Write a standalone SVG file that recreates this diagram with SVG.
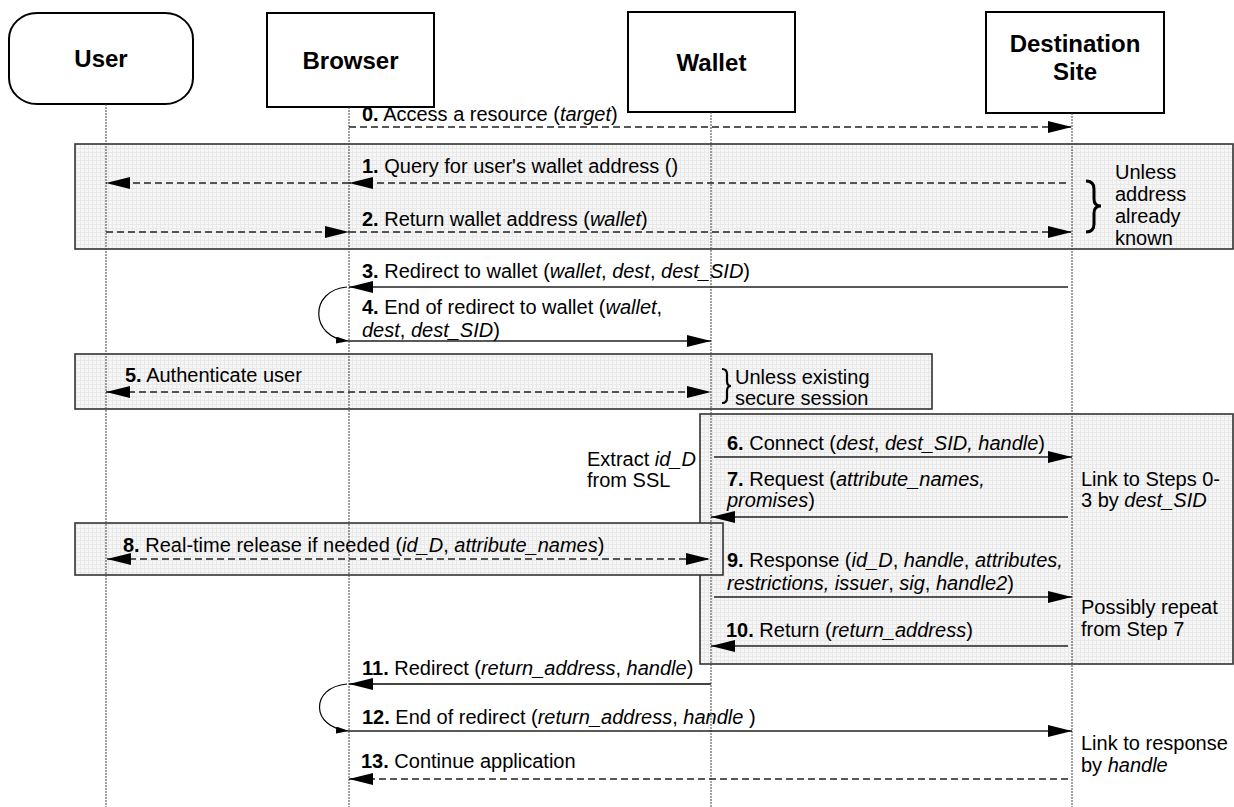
<svg xmlns="http://www.w3.org/2000/svg" width="1234" height="807" viewBox="0 0 1234 807">
<style>
.t{font-family:"Liberation Sans",Arial,sans-serif;font-size:20px;fill:#000}
.h{font-family:"Liberation Sans",Arial,sans-serif;font-size:24px;font-weight:bold;text-anchor:middle;fill:#000}
.b{font-weight:bold}
.i{font-style:italic}
.hbox{fill:#fff;stroke:#000;stroke-width:2}
.shade{fill:url(#grid);stroke:#333;stroke-width:1.6}
.life{stroke:#444;stroke-width:1;stroke-dasharray:2,1;fill:none}
.sol{stroke:#222;stroke-width:1.5;fill:none}
.dash{stroke:#222;stroke-width:1.3;stroke-dasharray:7,4;fill:none}
.cur{stroke:#000;stroke-width:1.2;fill:none}
.brace{stroke:#000;fill:none}
</style>
<defs>
<pattern id="grid" width="4" height="4" patternUnits="userSpaceOnUse">
<rect width="4" height="4" fill="#f6f6f6"/>
<path d="M0 0.5H4M0.5 0V4" stroke="#e9e9e9" stroke-width="1"/>
</pattern>
<marker id="ah" viewBox="0 0 24 12" refX="24" refY="6" markerWidth="24" markerHeight="12" markerUnits="userSpaceOnUse" orient="auto-start-reverse">
<path d="M0,0 L24,6 L0,12 z" fill="#000"/>
</marker>
<marker id="ahs" viewBox="0 0 13 7" refX="13" refY="3.5" markerWidth="13" markerHeight="7" markerUnits="userSpaceOnUse" orient="auto">
<path d="M0,0 L13,3.5 L0,7 z" fill="#000"/>
</marker>
</defs>
<rect width="1234" height="807" fill="#fff"/>

<g id="regions">
<rect id="region-address" class="shade" x="75" y="144" width="1158" height="105"/>
<rect id="region-auth" class="shade" x="75" y="354" width="857" height="55"/>
<rect id="region-exchange" class="shade" x="700" y="414" width="533" height="250"/>
<rect id="region-release" class="shade" x="75" y="523" width="648" height="52"/>
</g>

<g id="user">
<rect class="hbox" x="9" y="13" width="184" height="91" rx="28" ry="26"/>
<text class="h" x="101" y="67">User</text>
<line class="life" x1="106" y1="104" x2="106" y2="807"/>
</g>
<g id="browser">
<rect class="hbox" x="267" y="13" width="167" height="94"/>
<text class="h" x="350.5" y="69">Browser</text>
<line class="life" x1="349" y1="107" x2="349" y2="807"/>
</g>
<g id="wallet">
<rect class="hbox" x="628" y="12" width="167" height="100"/>
<text class="h" x="711.5" y="71">Wallet</text>
<line class="life" x1="711" y1="112" x2="711" y2="807"/>
</g>
<g id="destination">
<rect class="hbox" x="986" y="12" width="178" height="101"/>
<text class="h" x="1075" y="52">Destination</text>
<text class="h" x="1075" y="80">Site</text>
<line class="life" x1="1072" y1="113" x2="1072" y2="807"/>
</g>

<g id="connectors">
<line class="dash" x1="349" y1="127" x2="1072" y2="127" marker-end="url(#ah)"/>
<line class="dash" x1="1066" y1="183" x2="349" y2="183" marker-end="url(#ah)"/>
<line class="dash" x1="349" y1="183" x2="106" y2="183" marker-end="url(#ah)"/>
<line class="dash" x1="106" y1="232" x2="349" y2="232" marker-end="url(#ah)"/>
<line class="dash" x1="349" y1="232" x2="1072" y2="232" marker-end="url(#ah)"/>
<line class="sol" x1="1068" y1="287" x2="349" y2="287" marker-end="url(#ah)"/>
<path class="cur" d="M347,287 C309,290 309,338 349,341" marker-end="url(#ahs)"/>
<line class="sol" x1="349" y1="341" x2="711" y2="341" marker-end="url(#ah)"/>
<line class="dash" x1="106" y1="392" x2="711" y2="392" marker-start="url(#ah)" marker-end="url(#ah)"/>
<line class="sol" x1="714" y1="457" x2="1072" y2="457" marker-end="url(#ah)"/>
<line class="sol" x1="1068" y1="517" x2="711" y2="517" marker-end="url(#ah)"/>
<line class="dash" x1="107" y1="559" x2="710" y2="559" marker-start="url(#ah)" marker-end="url(#ah)"/>
<line class="sol" x1="714" y1="597" x2="1072" y2="597" marker-end="url(#ah)"/>
<line class="sol" x1="1068" y1="646" x2="711" y2="646" marker-end="url(#ah)"/>
<line class="sol" x1="711" y1="684" x2="349" y2="684" marker-end="url(#ah)" style="stroke:#444;stroke-width:2"/>
<path class="cur" d="M347,684 C310,687 310,728 349,731" marker-end="url(#ahs)"/>
<line class="sol" x1="349" y1="731" x2="1072" y2="731" marker-end="url(#ah)"/>
<line class="dash" x1="1068" y1="779" x2="349" y2="779" marker-end="url(#ah)"/>
</g>

<g id="labels">
<text class="t" x="362" y="121"><tspan class="b">0.</tspan> Access a resource (<tspan class="i">target</tspan>)</text>
<text class="t" x="362" y="173"><tspan class="b">1.</tspan> Query for user's wallet address ()</text>
<text class="t" x="362" y="226"><tspan class="b">2.</tspan> Return wallet address (<tspan class="i">wallet</tspan>)</text>
<text class="t" x="362" y="278"><tspan class="b">3.</tspan> Redirect to wallet (<tspan class="i">wallet</tspan>, <tspan class="i">dest</tspan>, <tspan class="i">dest_SID</tspan>)</text>
<text class="t" x="362" y="314"><tspan class="b">4.</tspan> End of redirect to wallet (<tspan class="i">wallet</tspan>,</text>
<text class="t" x="362" y="337"><tspan class="i">dest</tspan>, <tspan class="i">dest_SID</tspan>)</text>
<text class="t" x="125" y="382"><tspan class="b">5.</tspan> Authenticate user</text>
<text class="t" x="727" y="450"><tspan class="b">6.</tspan> Connect (<tspan class="i">dest</tspan>, <tspan class="i">dest_SID, handle</tspan>)</text>
<text class="t" x="727" y="486"><tspan class="b">7.</tspan> Request (<tspan class="i">attribute_names,</tspan></text>
<text class="t" x="727" y="507"><tspan class="i">promises</tspan>)</text>
<text class="t" x="123" y="552"><tspan class="b">8.</tspan> Real-time release if needed (<tspan class="i">id_D</tspan>, <tspan class="i">attribute_names</tspan>)</text>
<text class="t" x="727" y="567"><tspan class="b">9.</tspan> Response (<tspan class="i">id_D</tspan>, <tspan class="i">handle</tspan>, <tspan class="i">attributes,</tspan></text>
<text class="t" x="727" y="590"><tspan class="i">restrictions, issuer</tspan>, <tspan class="i">sig</tspan>, <tspan class="i">handle2</tspan>)</text>
<text class="t" x="726" y="637"><tspan class="b">10.</tspan> Return (<tspan class="i">return_address</tspan>)</text>
<text class="t" x="362" y="675"><tspan class="b">11.</tspan> Redirect (<tspan class="i">return_address</tspan>, <tspan class="i">handle</tspan>)</text>
<text class="t" x="362" y="724"><tspan class="b">12.</tspan> End of redirect (<tspan class="i">return_address</tspan>, <tspan class="i">handle</tspan> )</text>
<text class="t" x="361" y="768"><tspan class="b">13.</tspan> Continue application</text>
</g>

<g id="note-address">
<path class="brace" style="stroke-width:3" d="M1086,181 Q1094,181 1094,189 L1094,199 Q1094,206 1101,206 Q1094,206 1094,213 L1094,224 Q1094,232 1086,232"/>
<text class="t" x="1115" y="179">Unless</text>
<text class="t" x="1115" y="201">address</text>
<text class="t" x="1115" y="223">already</text>
<text class="t" x="1115" y="245">known</text>
</g>
<g id="note-session">
<path class="brace" style="stroke-width:2.2" d="M722,369 Q727,369 727,374 L727,381 Q727,386 731,386 Q727,386 727,391 L727,398 Q727,403 722,403"/>
<text class="t" x="735" y="384">Unless existing</text>
<text class="t" x="735" y="405">secure session</text>
</g>
<g id="note-ssl">
<text class="t" x="587" y="466">Extract <tspan class="i">id_D</tspan></text>
<text class="t" x="587" y="487">from SSL</text>
</g>
<g id="note-link-steps">
<text class="t" x="1081" y="486">Link to Steps 0-</text>
<text class="t" x="1081" y="507">3 by <tspan class="i">dest_SID</tspan></text>
</g>
<g id="note-repeat">
<text class="t" x="1081" y="614">Possibly repeat</text>
<text class="t" x="1081" y="636">from Step 7</text>
</g>
<g id="note-link-response">
<text class="t" x="1081" y="750">Link to response</text>
<text class="t" x="1081" y="772">by <tspan class="i">handle</tspan></text>
</g>
</svg>
